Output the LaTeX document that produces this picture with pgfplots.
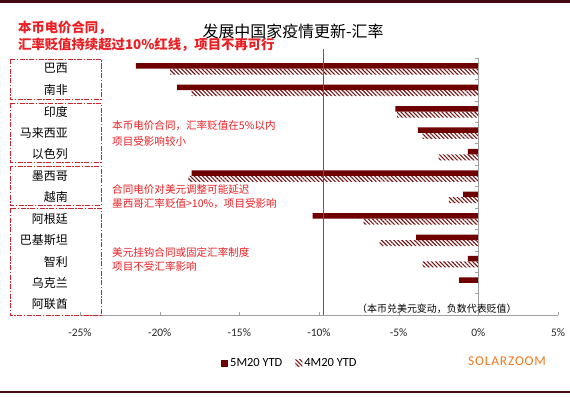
\documentclass[border=0pt]{standalone}
\usepackage{pgfplots}
\pgfplotsset{compat=1.18}
\usepackage{pgfplotstable}
\usetikzlibrary{patterns.meta}
\usepackage{fontspec}
\setmainfont{Carlito}
\newfontfamily\cjk{Noto Sans CJK SC}
\newfontfamily\szfont[LetterSpace=6]{Carlito}
\definecolor{barred}{RGB}{110,0,0}
\definecolor{hatchred}{RGB}{120,20,20}
\definecolor{annred}{RGB}{235,30,35}
\definecolor{boxred}{RGB}{205,35,45}
\definecolor{rulecol}{RGB}{70,10,20}
\definecolor{axgray}{RGB}{160,160,160}
\definecolor{szorange}{RGB}{240,120,30}

\pgfplotstableread{
y m5 m4
11 -21.5 -19.35
10 -18.9 -18.0
9 -5.2 -5.1
8 -3.8 -3.5
7 -0.65 -2.5
6 -18.0 -18.2
5 -0.96 -1.85
4 -10.4 -7.2
3 -3.9 -6.2
2 -0.65 -3.5
1 -1.2 0
0 0 0
}\data

\begin{document}
\begin{tikzpicture}[x=1bp,y=1bp]
\path (0,0) rectangle (570,396);
\fill[rulecol] (0,393) rectangle (570,395.5);
\fill[rulecol] (0,3) rectangle (570,5.5);
\begin{axis}[
 at={(80bp,81bp)}, anchor=south west, scale only axis, width=478bp, height=257bp,
 xbar, xmin=-25, xmax=5, ymin=-0.5, ymax=11.5,
 axis x line=bottom, axis y line=left,
 y axis line style={draw=none}, ytick style={draw=none},
 x axis line style={axgray, -}, xtick style={axgray}, tick align=inside, major tick length=3bp,
 xtick={-25,-20,...,5}, xticklabels={-25\%,-20\%,-15\%,-10\%,-5\%,0\%,5\%},
 xticklabel style={font=\fontsize{11.5}{13}\selectfont, inner sep=0pt, yshift=-13bp, text=black!85},
 ytick={0,...,11},
 yticklabels={阿联酋,乌克兰,智利,巴基斯坦,阿根廷,越南,墨西哥,以色列,马来西亚,印度,南非,巴西},
 yticklabel style={font=\cjk\fontsize{12}{14}\selectfont, anchor=east, inner sep=0pt, xshift=-12bp},
 clip=false,
 legend style={at={(0.295,-0.187)}, anchor=west, draw=none, fill=none, legend columns=2,
   font=\fontsize{12.5}{14}\selectfont, /tikz/every even column/.style={column sep=11bp}, inner sep=0pt},
]
\addplot[fill=barred, draw=none, bar width=5.5bp, bar shift=2.75bp,
  legend image code/.code={\fill[barred] (0bp,-3.5bp) rectangle (7bp,3.5bp);}]
  table[x=m5,y=y]{\data};
\addplot[pattern={Lines[angle=-45,distance=2.9bp,line width=1.1bp]}, pattern color=hatchred, draw=none, bar width=6bp, bar shift=-3bp,
  legend image code/.code={\fill[pattern={Lines[angle=-45,distance=2.9bp,line width=1.1bp]}, pattern color=hatchred] (0bp,-3.5bp) rectangle (7bp,3.5bp);}]
  table[x=m4,y=y]{\data};
\legend{5M20 YTD, 4M20 YTD}
\draw[axgray] (axis cs:0,-0.5) -- (axis cs:0,11.5);
\pgfplotsinvokeforeach{-0.5,0.5,1.5,2.5,3.5,4.5,5.5,6.5,7.5,8.5,9.5,10.5,11.5}{\draw[axgray] (axis cs:0,#1) -- ([xshift=-3bp]axis cs:0,#1);}
\draw[annred, line width=0.8bp] (axis cs:-9.75,-0.5) -- ([yshift=9bp]axis cs:-9.75,11.5);
\end{axis}
\node[anchor=west, inner sep=0, text=annred, font=\cjk\bfseries\fontsize{13.4}{15}\selectfont] at (18,368) {本币电价合同，};
\node[anchor=west, inner sep=0, text=annred, font=\cjk\bfseries\fontsize{13.4}{15}\selectfont] at (18,351) {汇率贬值持续超过10\%红线，项目不再可行};
\node[font=\cjk\fontsize{16}{18}\selectfont] at (293,365) {发展中国家疫情更新-汇率};
\begin{scope}[every node/.style={anchor=west, inner sep=0, text=annred, font=\cjk\fontsize{10.6}{12}\selectfont}]
\node at (112,270) {本币电价合同，汇率贬值在5\%以内};
\node at (112,255) {项目受影响较小};
\node at (112,206) {合同电价对美元调整可能延迟};
\node at (112,192) {墨西哥汇率贬值>10\%，项目受影响};
\node at (112,144) {美元挂钩合同或固定汇率制度};
\node at (112,130) {项目不受汇率影响};
\end{scope}
\node[anchor=west, inner sep=0, font=\cjk\fontsize{10}{12}\selectfont] at (357,87) {（本币兑美元变动，负数代表贬值）};
\node[anchor=west, inner sep=0, text=szorange, font=\szfont\fontsize{13.5}{15}\selectfont] at (468,35) {SOLARZOOM};
\begin{scope}[boxred, dash pattern=on 5bp off 1.5bp on 1.5bp off 1.5bp, line width=0.8bp]
\draw (10,337) rectangle (101,297);
\draw (10,293) rectangle (101,234);
\draw (10,230) rectangle (101,191);
\draw (10,188) rectangle (101,81);
\end{scope}
\end{tikzpicture}
\end{document}
